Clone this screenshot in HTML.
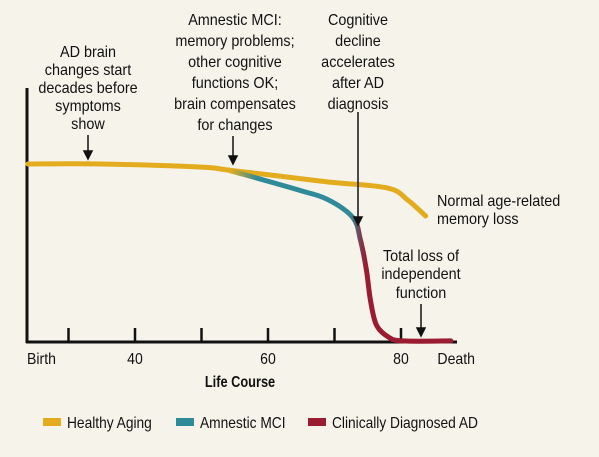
<!DOCTYPE html>
<html><head><meta charset="utf-8"><style>
body{margin:0;background:#f5f3ea}
svg{display:block}
text{font-family:"Liberation Sans Narrow","Liberation Sans",sans-serif;font-size:16px;fill:#111}
</style></head><body>
<svg width="599" height="457" viewBox="0 0 599 457">
<rect width="599" height="457" fill="#f5f3ea"/>
<defs>
<linearGradient id="dg" gradientUnits="userSpaceOnUse" x1="0" y1="0" x2="599" y2="0">
<stop offset="0.385" stop-color="#e2ac1e"/><stop offset="0.43" stop-color="#2f8a9a"/>
<stop offset="0.585" stop-color="#2f8a9a"/><stop offset="0.61" stop-color="#9b1b30"/>
</linearGradient>
</defs>
<g id="axes"></g>
<path id="healthy" fill="none" stroke="#e2ac1e" stroke-width="5" stroke-linecap="round"/>
<path id="disease" fill="none" stroke="url(#dg)" stroke-width="5" stroke-linecap="round"/>
<g fill="#111">
<text text-anchor="middle" transform="matrix(0.9 0 0 1 8.8 0)"><tspan x="88" y="57">AD brain</tspan><tspan x="88" y="75">changes start</tspan><tspan x="88" y="93">decades before</tspan><tspan x="88" y="111">symptoms</tspan><tspan x="88" y="129">show</tspan></text>
<text text-anchor="middle" transform="matrix(0.9 0 0 1 23.5 0)"><tspan x="235" y="25">Amnestic MCI:</tspan><tspan x="235" y="46">memory problems;</tspan><tspan x="235" y="67">other cognitive</tspan><tspan x="235" y="88">functions OK;</tspan><tspan x="235" y="109">brain compensates</tspan><tspan x="235" y="130">for changes</tspan></text>
<text text-anchor="middle" transform="matrix(0.9 0 0 1 35.8 0)"><tspan x="358" y="25">Cognitive</tspan><tspan x="358" y="46">decline</tspan><tspan x="358" y="67">accelerates</tspan><tspan x="358" y="88">after AD</tspan><tspan x="358" y="109">diagnosis</tspan></text>
<text transform="matrix(0.9 0 0 1 43.7 0)"><tspan x="437" y="206">Normal age-related</tspan><tspan x="437" y="224">memory loss</tspan></text>
<text text-anchor="middle" transform="matrix(0.9 0 0 1 42.1 0)"><tspan x="421" y="261">Total loss of</tspan><tspan x="421" y="279">independent</tspan><tspan x="421" y="298">function</tspan></text>
</g>
<g stroke="#111" stroke-width="1.5" fill="#111">
<line x1="88" y1="135" x2="88" y2="152"/><polygon points="84,151 92,151 88,159"/>
<line x1="233" y1="136" x2="233" y2="157"/><polygon points="229,156 237,156 233,164"/>
<line x1="358" y1="112" x2="358" y2="218"/><polygon points="354,217 362,217 358,225"/>
<line x1="421" y1="304" x2="421" y2="329"/><polygon points="417,328 425,328 421,336"/>
</g>
<g>
<rect x="43" y="418" width="18" height="8" fill="#e2ac1e"/>
<text x="67" y="428" transform="matrix(0.86 0 0 1 9.38 0)">Healthy Aging</text>
<rect x="176" y="418" width="18" height="8" fill="#2f8a9a"/>
<text x="200" y="428" transform="matrix(0.86 0 0 1 28 0)">Amnestic MCI</text>
<rect x="308" y="418" width="18" height="8" fill="#9b1b30"/>
<text x="332" y="428" transform="matrix(0.86 0 0 1 46.48 0)">Clinically Diagnosed AD</text>
</g>
</svg>
<script>
const tickAges=[30,40,50,60,70,80];
const tickLabels=["Birth","40","60","80","Death"];
const tickLabelAges=[23.9,40,60,80,88.3];
const healthyAges=[23.9,34.8,49.7,54,60.4,69.1,78,81,83.7];
const healthyValues=[100,100,98.3,96.6,93.8,89.9,86.5,79.8,70.8];
const adAges=[54,64.6,69.1,72.8,73.9,74.8,75.4,76.3,78.1,80.3,87.5];
const adValues=[96.6,85.4,79.8,69.7,57.3,40.4,23.6,9.6,2.8,0.6,0.6];
const X=a=>135+(a-40)*6.65;
const Y=v=>342-v/100*178;
const ns="http://www.w3.org/2000/svg";
function smooth(xs,ys){
  const p=xs.map((a,i)=>[X(a),Y(ys[i])]);
  let d="M"+p[0][0]+","+p[0][1];
  for(let i=0;i<p.length-1;i++){
    const p0=p[Math.max(0,i-1)],p1=p[i],p2=p[i+1],p3=p[Math.min(p.length-1,i+2)];
    const c1=[p1[0]+(p2[0]-p0[0])/6,p1[1]+(p2[1]-p0[1])/6];
    const c2=[p2[0]-(p3[0]-p1[0])/6,p2[1]-(p3[1]-p1[1])/6];
    d+=" C"+c1+" "+c2+" "+p2;
  }
  return d;
}
document.getElementById('healthy').setAttribute('d',smooth(healthyAges,healthyValues));
document.getElementById('disease').setAttribute('d',smooth(adAges,adValues));
const g=document.getElementById('axes');
function mk(tag,attrs,txt){const e=document.createElementNS(ns,tag);for(const k in attrs)e.setAttribute(k,attrs[k]);if(txt)e.textContent=txt;g.appendChild(e);return e;}
let e=mk('line',{x1:27,y1:88,x2:27,y2:343,stroke:'#111','stroke-width':3});


e=mk('line',{x1:26,y1:342,x2:457,y2:342,stroke:'#111','stroke-width':3});


tickAges.forEach(a=>{
  const t=mk('line',{x1:X(a),y1:328,x2:X(a),y2:342,stroke:'#111','stroke-width':2.5});
  
  
});
tickLabels.forEach((l,i)=>{
  const x=i==0?27:X(tickLabelAges[i]);
  const t=mk('text',{x:x,y:364,'text-anchor':i==0?'start':'middle',transform:'matrix(0.88 0 0 1 '+(0.12*x)+' 0)'},l);
  
  
});
e=mk('text',{x:240,y:387,'text-anchor':'middle','font-weight':'bold','font-size':'15',transform:'matrix(0.8 0 0 1 48 0)'},'Life Course');


</script>
</body></html>
